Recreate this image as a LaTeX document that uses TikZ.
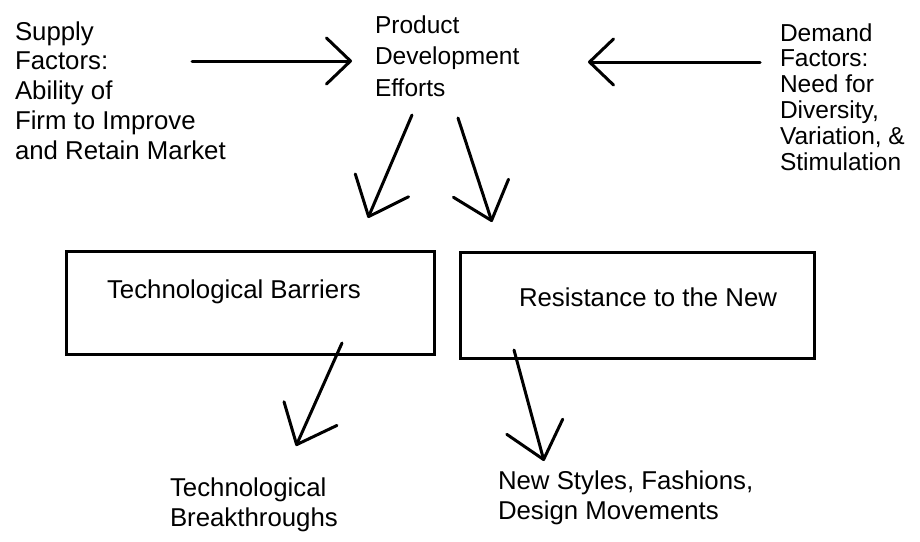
\documentclass[tikz,border=0pt]{standalone}
\usepackage{fontspec}
\setmainfont{Liberation Sans}
\usetikzlibrary{arrows.meta}
\begin{document}
\begin{tikzpicture}[x=1pt,y=-1pt,
  lbl/.style={inner sep=0pt, outer sep=0pt, align=left, anchor=base west,
              font=\fontsize{25.8}{29.75}\selectfont},
  pdelbl/.style={lbl, font=\fontsize{24.5}{31.5}\selectfont},
  rlbl/.style={lbl, font=\fontsize{24.5}{25.8}\selectfont},
  box/.style={draw, line width=3pt, anchor=north west, inner sep=0pt},
  conn/.style={line width=3pt, line cap=round, line join=round,
               -{Straight Barb[length=34pt,width=58pt,line cap=round,line join=round]}},
  hconn/.style={line width=3pt, line cap=round, line join=round,
               -{Straight Barb[length=24pt,width=46pt,line cap=round,line join=round]}}
]
\useasboundingbox (0,0) rectangle (920,541);

% text blocks (each placed by the baseline of its last line)
\node[lbl] (supply) at (15,159) {Supply\\Factors:\\Ability of\\Firm to Improve\\and Retain Market};
\node[pdelbl] (pde) at (375,96) {Product\\Development\\Efforts};
\node[rlbl] (demand) at (780,170) {Demand\\Factors:\\Need for\\Diversity,\\Variation, \&\\Stimulation};

% the two barrier boxes
\node[box, minimum width=368pt, minimum height=103pt] (techbox) at (65,250) {};
\node[box, minimum width=354pt, minimum height=106pt] (resbox) at (459,251) {};
\node[lbl] (techtxt) at (107,298) {Technological Barriers};
\node[lbl] (restxt) at (519,306) {Resistance to the New};

% outcomes
\node[lbl] (breakthru) at (170,526) {Technological\\Breakthroughs};
\node[lbl] (styles) at (498,519) {New Styles, Fashions,\\Design Movements};

% arrow end points
\coordinate (supA) at (192,61);
\coordinate (supB) at (352,61);
\coordinate (demA) at (760,62);
\coordinate (demB) at (588,62);
\coordinate (pdeLA) at (412,115);
\coordinate (pdeLB) at (368,218);
\coordinate (pdeRA) at (458,118);
\coordinate (pdeRB) at (492,222);
\coordinate (techA) at (342,343);
\coordinate (techB) at (296,446);
\coordinate (resA) at (514,350);
\coordinate (resB) at (544,461);

% arrows
\draw[hconn] (supA) -- (supB);
\draw[hconn] (demA) -- (demB);
\draw[conn] (pdeLA) -- (pdeLB);
\draw[conn] (pdeRA) -- (pdeRB);
\draw[conn] (techA) -- (techB);
\draw[conn] (resA) -- (resB);
\end{tikzpicture}
\end{document}
